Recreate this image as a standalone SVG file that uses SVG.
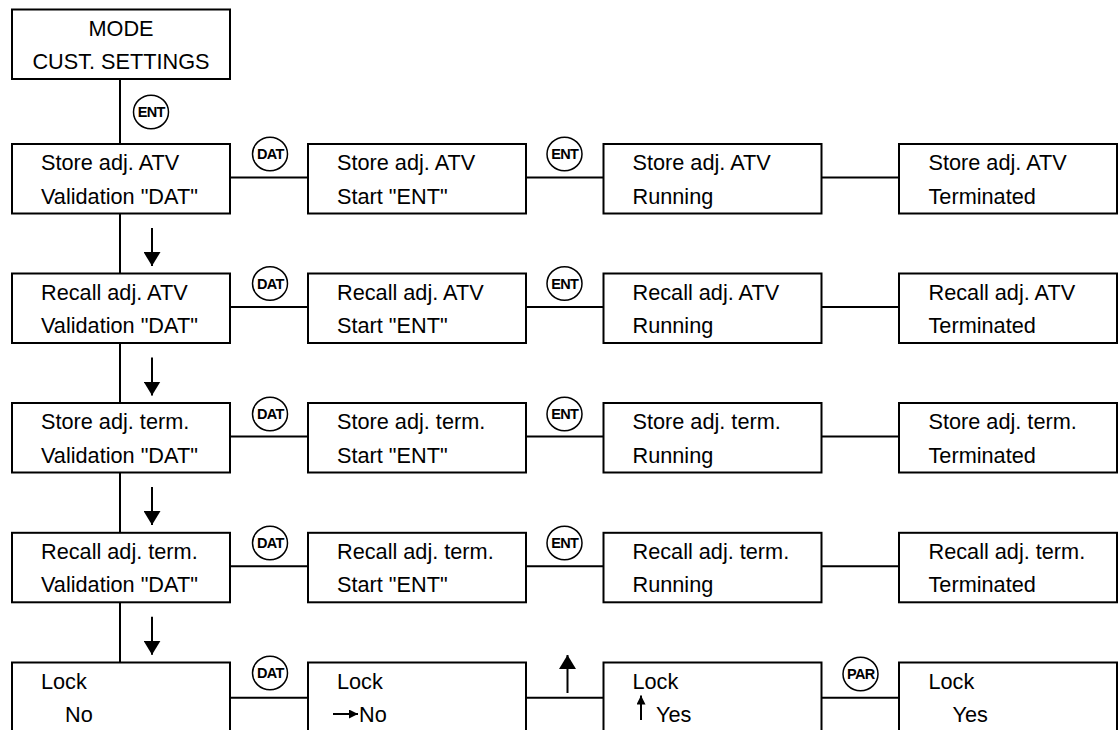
<svg xmlns="http://www.w3.org/2000/svg" width="1120" height="730" viewBox="0 0 1120 730">
<defs>
<style>
.box{fill:#fff;stroke:#000;stroke-width:2}
.ln{fill:none;stroke:#000;stroke-width:2}
.t{font-family:"Liberation Sans",Arial,Helvetica,sans-serif;font-size:21.7px;fill:#000}
.tc{text-anchor:middle}
.key{fill:#fff;stroke:#000;stroke-width:1.5}
.kt{font-family:"Liberation Sans",Arial,Helvetica,sans-serif;font-size:14.5px;font-weight:bold;letter-spacing:-0.7px;fill:#000;text-anchor:middle}
</style>
<marker id="ah" markerUnits="userSpaceOnUse" viewBox="0 0 14 17" markerWidth="14" markerHeight="17" refX="14" refY="8.5" orient="auto">
<path d="M0,0 L14,8.5 L0,17 Z" fill="#000"/>
</marker>
<marker id="sh" markerUnits="userSpaceOnUse" viewBox="0 0 9 9" markerWidth="9" markerHeight="9" refX="9" refY="4.5" orient="auto">
<path d="M0,0 L9,4.5 L0,9 Z" fill="#000"/>
</marker>
</defs>

<g id="connectors">
<line class="ln" x1="120" y1="79" x2="120" y2="144"/>
<line class="ln" x1="120" y1="213.5" x2="120" y2="273.5"/>
<line class="ln" x1="120" y1="343" x2="120" y2="403"/>
<line class="ln" x1="120" y1="472.5" x2="120" y2="532.8"/>
<line class="ln" x1="120" y1="602.3" x2="120" y2="662.5"/>
<line class="ln" x1="152" y1="228" x2="152" y2="266" marker-end="url(#ah)"/>
<line class="ln" x1="152" y1="357.5" x2="152" y2="395.5" marker-end="url(#ah)"/>
<line class="ln" x1="152" y1="487" x2="152" y2="525" marker-end="url(#ah)"/>
<line class="ln" x1="152" y1="616.8" x2="152" y2="654.8" marker-end="url(#ah)"/>
<line class="ln" x1="230" y1="177.5" x2="308" y2="177.5"/>
<line class="ln" x1="526" y1="177.5" x2="603.5" y2="177.5"/>
<line class="ln" x1="821.5" y1="177.5" x2="899" y2="177.5"/>
<line class="ln" x1="230" y1="307" x2="308" y2="307"/>
<line class="ln" x1="526" y1="307" x2="603.5" y2="307"/>
<line class="ln" x1="821.5" y1="307" x2="899" y2="307"/>
<line class="ln" x1="230" y1="436.5" x2="308" y2="436.5"/>
<line class="ln" x1="526" y1="436.5" x2="603.5" y2="436.5"/>
<line class="ln" x1="821.5" y1="436.5" x2="899" y2="436.5"/>
<line class="ln" x1="230" y1="566.3" x2="308" y2="566.3"/>
<line class="ln" x1="526" y1="566.3" x2="603.5" y2="566.3"/>
<line class="ln" x1="821.5" y1="566.3" x2="899" y2="566.3"/>
<line class="ln" x1="230" y1="697.7" x2="308" y2="697.7"/>
<line class="ln" x1="526" y1="697.7" x2="603.5" y2="697.7"/>
<line class="ln" x1="821.5" y1="697.7" x2="899" y2="697.7"/>
<line class="ln" x1="567.5" y1="693" x2="567.5" y2="655" marker-end="url(#ah)"/>
</g>

<g id="keys">
<g id="key-ent-top"><ellipse class="key" cx="151" cy="112" rx="17.5" ry="16.8"/><text class="kt" x="151.3" y="117.2">ENT</text></g>
<g id="key-dat-1"><ellipse class="key" cx="270" cy="154" rx="17.5" ry="16.8"/><text class="kt" x="270.3" y="159.2">DAT</text></g>
<g id="key-ent-1"><ellipse class="key" cx="564.5" cy="154" rx="17.5" ry="16.8"/><text class="kt" x="564.8" y="159.2">ENT</text></g>
<g id="key-dat-2"><ellipse class="key" cx="270" cy="283.5" rx="17.5" ry="16.8"/><text class="kt" x="270.3" y="288.7">DAT</text></g>
<g id="key-ent-2"><ellipse class="key" cx="564.5" cy="283.5" rx="17.5" ry="16.8"/><text class="kt" x="564.8" y="288.7">ENT</text></g>
<g id="key-dat-3"><ellipse class="key" cx="270" cy="414" rx="17.5" ry="16.8"/><text class="kt" x="270.3" y="419.2">DAT</text></g>
<g id="key-ent-3"><ellipse class="key" cx="564.5" cy="414" rx="17.5" ry="16.8"/><text class="kt" x="564.8" y="419.2">ENT</text></g>
<g id="key-dat-4"><ellipse class="key" cx="270" cy="543" rx="17.5" ry="16.8"/><text class="kt" x="270.3" y="548.2">DAT</text></g>
<g id="key-ent-4"><ellipse class="key" cx="564.5" cy="543" rx="17.5" ry="16.8"/><text class="kt" x="564.8" y="548.2">ENT</text></g>
<g id="key-dat-5"><ellipse class="key" cx="270" cy="673" rx="17.5" ry="16.8"/><text class="kt" x="270.3" y="678.2">DAT</text></g>
<g id="key-par-5"><ellipse class="key" cx="860.5" cy="674" rx="17.5" ry="16.8"/><text class="kt" x="860.8" y="679.2">PAR</text></g>
</g>

<g id="mode">
<rect class="box" x="12" y="9.5" width="218" height="69.5"/>
<text class="t tc" x="121" y="36">MODE</text>
<text class="t tc" x="121" y="69">CUST. SETTINGS</text>
</g>

<g id="row1">
<g id="n1a"><rect class="box" x="12" y="144" width="218" height="69.5"/><text class="t" x="41" y="170">Store adj. ATV</text><text class="t" x="41" y="203.5">Validation "DAT"</text></g>
<g id="n1b"><rect class="box" x="308" y="144" width="218" height="69.5"/><text class="t" x="337" y="170">Store adj. ATV</text><text class="t" x="337" y="203.5">Start "ENT"</text></g>
<g id="n1c"><rect class="box" x="603.5" y="144" width="218" height="69.5"/><text class="t" x="632.5" y="170">Store adj. ATV</text><text class="t" x="632.5" y="203.5">Running</text></g>
<g id="n1d"><rect class="box" x="899" y="144" width="218" height="69.5"/><text class="t" x="928.5" y="170">Store adj. ATV</text><text class="t" x="928.5" y="203.5">Terminated</text></g>
</g>

<g id="row2">
<g id="n2a"><rect class="box" x="12" y="273.5" width="218" height="69.5"/><text class="t" x="41" y="299.5">Recall adj. ATV</text><text class="t" x="41" y="333">Validation "DAT"</text></g>
<g id="n2b"><rect class="box" x="308" y="273.5" width="218" height="69.5"/><text class="t" x="337" y="299.5">Recall adj. ATV</text><text class="t" x="337" y="333">Start "ENT"</text></g>
<g id="n2c"><rect class="box" x="603.5" y="273.5" width="218" height="69.5"/><text class="t" x="632.5" y="299.5">Recall adj. ATV</text><text class="t" x="632.5" y="333">Running</text></g>
<g id="n2d"><rect class="box" x="899" y="273.5" width="218" height="69.5"/><text class="t" x="928.5" y="299.5">Recall adj. ATV</text><text class="t" x="928.5" y="333">Terminated</text></g>
</g>

<g id="row3">
<g id="n3a"><rect class="box" x="12" y="403" width="218" height="69.5"/><text class="t" x="41" y="429">Store adj. term.</text><text class="t" x="41" y="462.5">Validation "DAT"</text></g>
<g id="n3b"><rect class="box" x="308" y="403" width="218" height="69.5"/><text class="t" x="337" y="429">Store adj. term.</text><text class="t" x="337" y="462.5">Start "ENT"</text></g>
<g id="n3c"><rect class="box" x="603.5" y="403" width="218" height="69.5"/><text class="t" x="632.5" y="429">Store adj. term.</text><text class="t" x="632.5" y="462.5">Running</text></g>
<g id="n3d"><rect class="box" x="899" y="403" width="218" height="69.5"/><text class="t" x="928.5" y="429">Store adj. term.</text><text class="t" x="928.5" y="462.5">Terminated</text></g>
</g>

<g id="row4">
<g id="n4a"><rect class="box" x="12" y="532.8" width="218" height="69.5"/><text class="t" x="41" y="558.8">Recall adj. term.</text><text class="t" x="41" y="592.3">Validation "DAT"</text></g>
<g id="n4b"><rect class="box" x="308" y="532.8" width="218" height="69.5"/><text class="t" x="337" y="558.8">Recall adj. term.</text><text class="t" x="337" y="592.3">Start "ENT"</text></g>
<g id="n4c"><rect class="box" x="603.5" y="532.8" width="218" height="69.5"/><text class="t" x="632.5" y="558.8">Recall adj. term.</text><text class="t" x="632.5" y="592.3">Running</text></g>
<g id="n4d"><rect class="box" x="899" y="532.8" width="218" height="69.5"/><text class="t" x="928.5" y="558.8">Recall adj. term.</text><text class="t" x="928.5" y="592.3">Terminated</text></g>
</g>

<g id="row5">
<g id="n5a"><rect class="box" x="12" y="662.5" width="218" height="69.5"/><text class="t" x="41" y="688.5">Lock</text><text class="t" x="65" y="722">No</text></g>
<g id="n5b"><rect class="box" x="308" y="662.5" width="218" height="69.5"/><text class="t" x="337" y="688.5">Lock</text><line class="ln" x1="333" y1="714" x2="358" y2="714" marker-end="url(#sh)"/><text class="t" x="359" y="722">No</text></g>
<g id="n5c"><rect class="box" x="603.5" y="662.5" width="218" height="69.5"/><text class="t" x="632.5" y="688.5">Lock</text><line class="ln" x1="641" y1="720" x2="641" y2="695.5" marker-end="url(#sh)"/><text class="t" x="656" y="722">Yes</text></g>
<g id="n5d"><rect class="box" x="899" y="662.5" width="218" height="69.5"/><text class="t" x="928.5" y="688.5">Lock</text><text class="t" x="952.5" y="722">Yes</text></g>
</g>
</svg>
